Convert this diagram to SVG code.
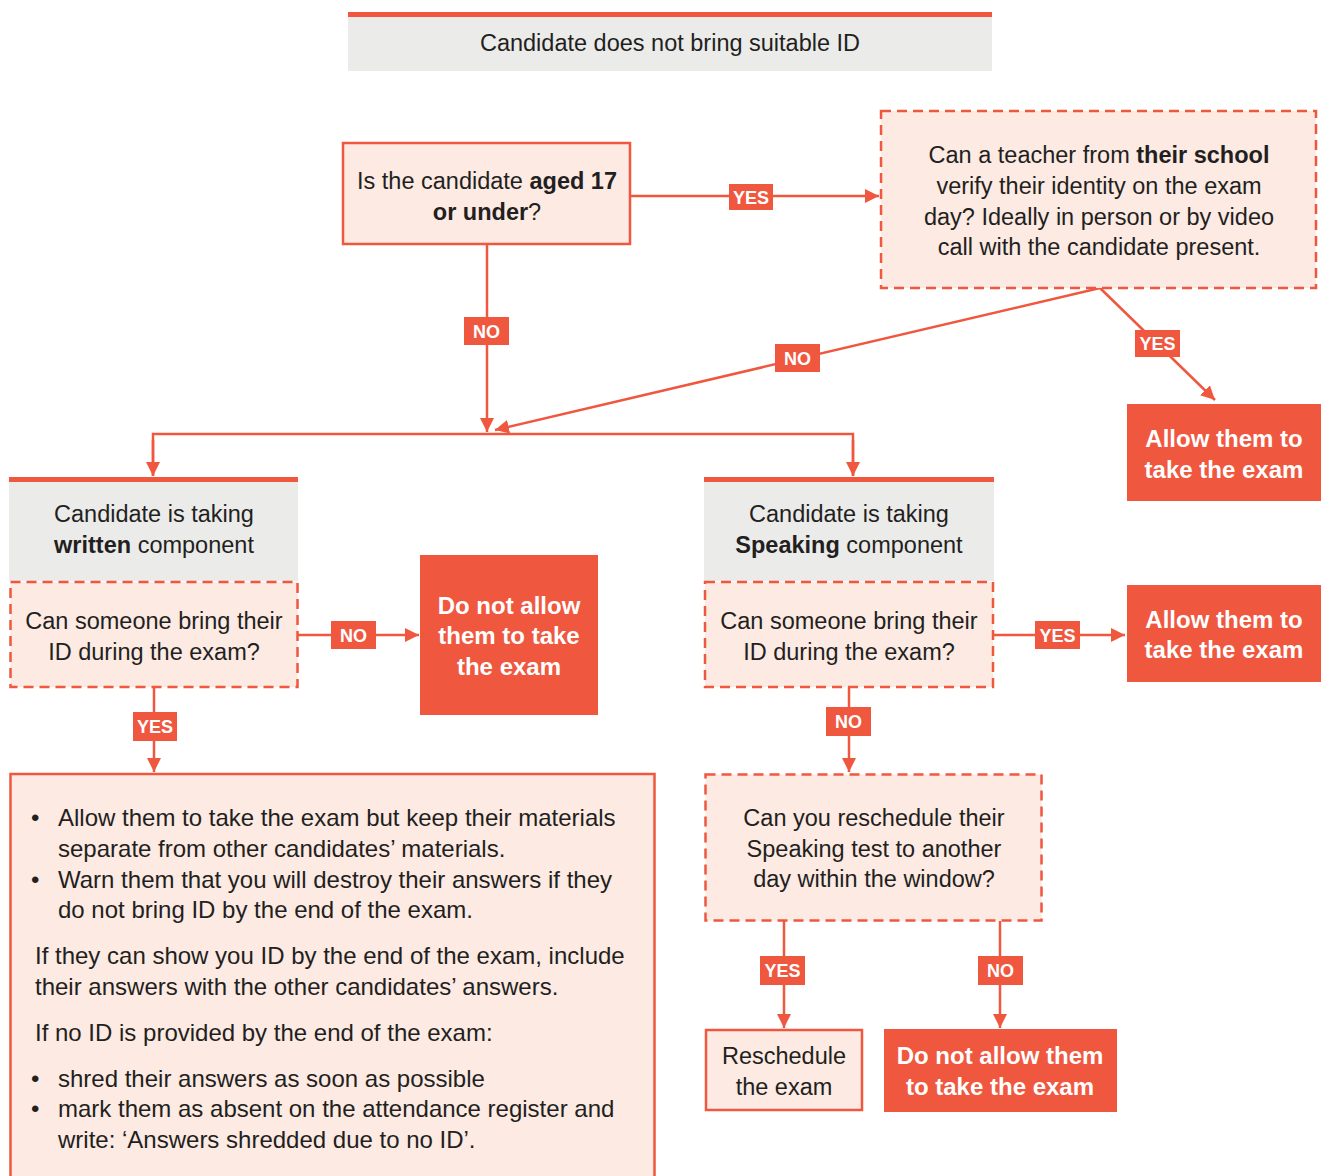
<svg xmlns="http://www.w3.org/2000/svg" width="1323" height="1176" viewBox="0 0 1323 1176">
<defs>
<style>
text{font-family:"Liberation Sans",Arial,sans-serif;fill:#231f20;font-size:23.5px}
.c{text-anchor:middle}
.b{font-weight:bold}
.w{fill:#ffffff;font-weight:bold;font-size:24px}
.big{font-size:24px}
.lbl{fill:#ffffff;font-weight:bold;font-size:18px;text-anchor:middle}
.red{fill:#f0573f}
.grey{fill:#ebebea}
.solid{fill:#fceae3;stroke:#f0573f;stroke-width:2.5}
.dash{fill:#fceae3;stroke:#f0573f;stroke-width:2.5;stroke-dasharray:10 6}
.line{fill:none;stroke:#f0573f;stroke-width:2.5}
</style>
<marker id="ah" viewBox="0 0 12 12" refX="12" refY="6" markerWidth="14" markerHeight="14" markerUnits="userSpaceOnUse" orient="auto">
<path d="M0,0 L12,6 L0,12 z" fill="#f0573f"/>
</marker>
</defs>
<rect width="1323" height="1176" fill="#ffffff"/>

<g id="connectors">
<path class="line" d="M630,196 H879" marker-end="url(#ah)"/>
<path class="line" d="M487,244 V432" marker-end="url(#ah)"/>
<path class="line" d="M1100,288 L495,430" marker-end="url(#ah)"/>
<path class="line" d="M1100,288 L1215,400" marker-end="url(#ah)"/>
<path class="line" d="M153,476 V434 H853 V476"/>
<path class="line" d="M153,440 V476" marker-end="url(#ah)"/>
<path class="line" d="M853,440 V476" marker-end="url(#ah)"/>
<path class="line" d="M298,635 H419" marker-end="url(#ah)"/>
<path class="line" d="M154,687 V772" marker-end="url(#ah)"/>
<path class="line" d="M993,635 H1125" marker-end="url(#ah)"/>
<path class="line" d="M849,687 V772" marker-end="url(#ah)"/>
<path class="line" d="M784,921 V1028" marker-end="url(#ah)"/>
<path class="line" d="M1000,921 V1028" marker-end="url(#ah)"/>
<rect class="red" x="729" y="184" width="44" height="26"/><text class="lbl" x="751" y="203.5">YES</text>
<rect class="red" x="464" y="317" width="45" height="28"/><text class="lbl" x="486.5" y="337.5">NO</text>
<rect class="red" x="775" y="344" width="45" height="28"/><text class="lbl" x="797.5" y="364.5">NO</text>
<rect class="red" x="1135" y="330" width="45" height="27"/><text class="lbl" x="1157.5" y="350">YES</text>
<rect class="red" x="331" y="621" width="45" height="28"/><text class="lbl" x="353.5" y="641.5">NO</text>
<rect class="red" x="133" y="712" width="44" height="29"/><text class="lbl" x="155" y="733">YES</text>
<rect class="red" x="1035" y="621" width="45" height="28"/><text class="lbl" x="1057.5" y="641.5">YES</text>
<rect class="red" x="826" y="707" width="45" height="29"/><text class="lbl" x="848.5" y="728">NO</text>
<rect class="red" x="760" y="956" width="45" height="29"/><text class="lbl" x="782.5" y="977">YES</text>
<rect class="red" x="978" y="956" width="45" height="29"/><text class="lbl" x="1000.5" y="977">NO</text>
</g>

<g id="start">
<rect class="red" x="348" y="12" width="644" height="5"/>
<rect class="grey" x="348" y="17" width="644" height="54"/>
<text class="c" x="670" y="51">Candidate does not bring suitable ID</text>
</g>

<g id="age">
<rect class="solid" x="343" y="143" width="287" height="101"/>
<text class="c" x="487" y="189">Is the candidate <tspan class="b">aged 17</tspan></text>
<text class="c" x="487" y="220"><tspan class="b">or under</tspan>?</text>
</g>

<g id="teacher">
<rect class="dash" x="881" y="111" width="435" height="177"/>
<text class="c" x="1099" y="163">Can a teacher from <tspan class="b">their school</tspan></text>
<text class="c" x="1099" y="194">verify their identity on the exam</text>
<text class="c" x="1099" y="225">day? Ideally in person or by video</text>
<text class="c" x="1099" y="255">call with the candidate present.</text>
</g>

<g id="allow1">
<rect class="red" x="1127" y="404" width="194" height="97"/>
<text class="c w" x="1224" y="447">Allow them to</text>
<text class="c w" x="1224" y="478">take the exam</text>
</g>

<g id="written">
<rect class="red" x="9" y="477" width="289" height="5"/>
<rect class="grey" x="9" y="482" width="289" height="99"/>
<text class="c" x="154" y="522">Candidate is taking</text>
<text class="c" x="154" y="553"><tspan class="b">written</tspan> component</text>
</g>

<g id="written-q">
<rect class="dash" x="10.5" y="582" width="287" height="105"/>
<text class="c" x="154" y="629">Can someone bring their</text>
<text class="c" x="154" y="660">ID during the exam?</text>
</g>

<g id="deny1">
<rect class="red" x="420" y="555" width="178" height="160"/>
<text class="c w" x="509" y="614">Do not allow</text>
<text class="c w" x="509" y="644">them to take</text>
<text class="c w" x="509" y="675">the exam</text>
</g>

<g id="instructions">
<rect class="solid" x="10.5" y="774" width="644" height="420"/>
<text class="big" x="31" y="826">•</text><text class="big" x="58" y="826">Allow them to take the exam but keep their materials</text>
<text class="big" x="58" y="857">separate from other candidates’ materials.</text>
<text class="big" x="31" y="888">•</text><text class="big" x="58" y="888">Warn them that you will destroy their answers if they</text>
<text class="big" x="58" y="918">do not bring ID by the end of the exam.</text>
<text class="big" x="35" y="964">If they can show you ID by the end of the exam, include</text>
<text class="big" x="35" y="995">their answers with the other candidates’ answers.</text>
<text class="big" x="35" y="1041">If no ID is provided by the end of the exam:</text>
<text class="big" x="31" y="1087">•</text><text class="big" x="58" y="1087">shred their answers as soon as possible</text>
<text class="big" x="31" y="1117">•</text><text class="big" x="58" y="1117">mark them as absent on the attendance register and</text>
<text class="big" x="58" y="1148">write: ‘Answers shredded due to no ID’.</text>
</g>

<g id="speaking">
<rect class="red" x="704" y="477" width="290" height="5"/>
<rect class="grey" x="704" y="482" width="290" height="99"/>
<text class="c" x="849" y="522">Candidate is taking</text>
<text class="c" x="849" y="553"><tspan class="b">Speaking</tspan> component</text>
</g>

<g id="speaking-q">
<rect class="dash" x="705" y="582" width="288" height="105"/>
<text class="c" x="849" y="629">Can someone bring their</text>
<text class="c" x="849" y="660">ID during the exam?</text>
</g>

<g id="allow2">
<rect class="red" x="1127" y="585" width="194" height="97"/>
<text class="c w" x="1224" y="628">Allow them to</text>
<text class="c w" x="1224" y="658">take the exam</text>
</g>

<g id="reschedule-q">
<rect class="dash" x="705.5" y="774.5" width="336" height="146"/>
<text class="c" x="874" y="826">Can you reschedule their</text>
<text class="c" x="874" y="857">Speaking test to another</text>
<text class="c" x="874" y="887">day within the window?</text>
</g>

<g id="reschedule">
<rect class="solid" x="706" y="1030" width="156" height="80"/>
<text class="c" x="784" y="1064">Reschedule</text>
<text class="c" x="784" y="1095">the exam</text>
</g>

<g id="deny2">
<rect class="red" x="884" y="1029" width="233" height="83"/>
<text class="c w" x="1000" y="1064">Do not allow them</text>
<text class="c w" x="1000" y="1095">to take the exam</text>
</g>
</svg>
